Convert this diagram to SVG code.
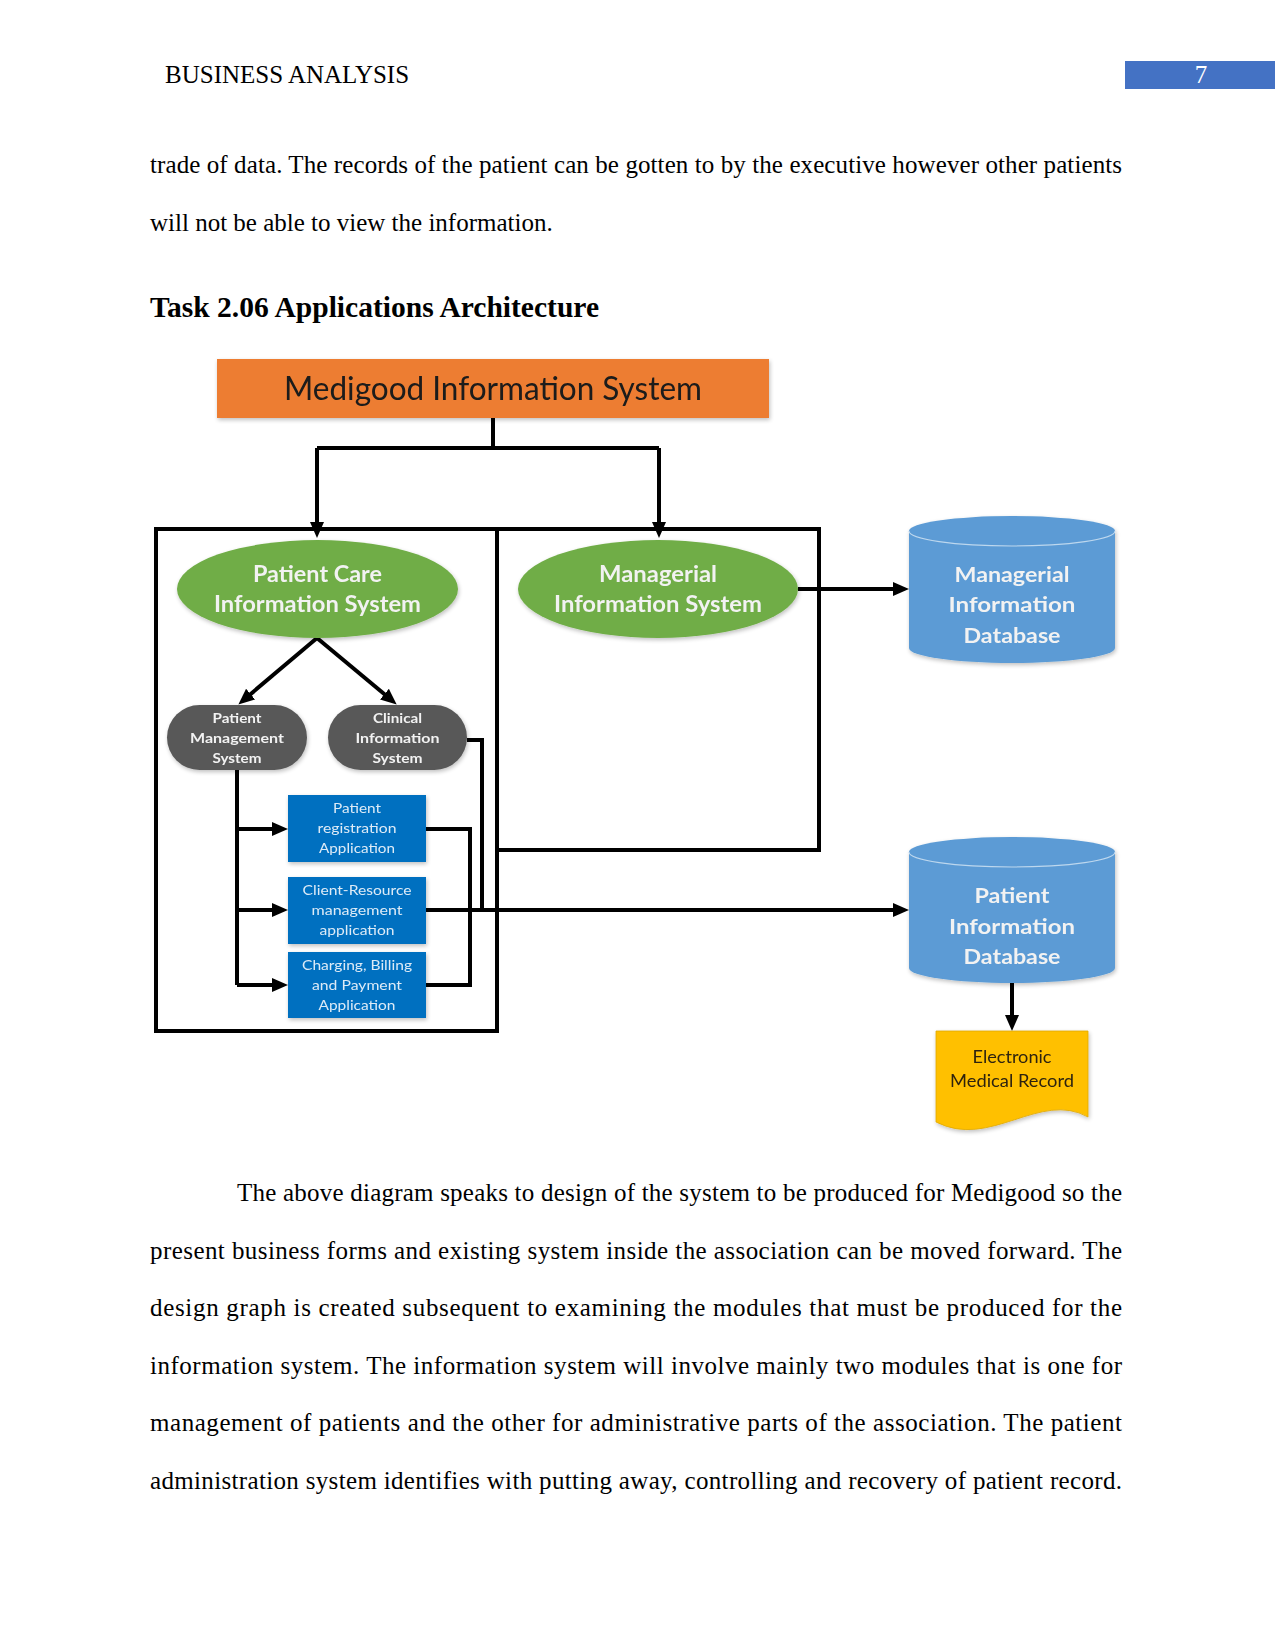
<svg xmlns="http://www.w3.org/2000/svg" width="1275" height="1651" viewBox="0 0 1275 1651">
<style>
.body{font-family:"Liberation Serif","Times New Roman",serif;font-size:25px;fill:#000}
.head{font-family:"Liberation Serif","Times New Roman",serif;font-size:29px;font-weight:bold;fill:#000}
.lb{font-family:Lato,"Liberation Sans",sans-serif;font-weight:bold;fill:#F2F2F2;text-anchor:middle}
.lr{font-family:Lato,"Liberation Sans",sans-serif;fill:#DDEBF7;text-anchor:middle}
.conn{fill:none;stroke:#000;stroke-width:4}
.arr{fill:none;stroke:#000;stroke-width:4;marker-end:url(#ah)}
.frame{fill:none;stroke:#000;stroke-width:4}
</style>
<defs>
<marker id="ah" markerUnits="userSpaceOnUse" viewBox="0 0 16 14" refX="6" refY="7" markerWidth="16" markerHeight="14" orient="auto">
<path d="M0,0 L16,7 L0,14 z" fill="#000"/>
</marker>
<filter id="sh" x="-10%" y="-10%" width="120%" height="130%">
<feGaussianBlur in="SourceAlpha" stdDeviation="2"/>
<feOffset dx="1" dy="2" result="b"/>
<feComponentTransfer><feFuncA type="linear" slope="0.25"/></feComponentTransfer>
<feMerge><feMergeNode/><feMergeNode in="SourceGraphic"/></feMerge>
</filter>
</defs>
<rect width="1275" height="1651" fill="#fff"/>

<g id="page-header">
<text class="body" x="165" y="83">BUSINESS ANALYSIS</text>
<rect x="1125" y="61" width="150" height="28" fill="#4472C4"/>
<text class="body" x="1201" y="83" style="fill:#fff" text-anchor="middle">7</text>
</g>

<g id="top-paragraph">
<text class="body" x="150" y="173" textLength="972" lengthAdjust="spacing">trade of data. The records of the patient can be gotten to by the executive however other patients</text>
<text class="body" x="150" y="231">will not be able to view the information.</text>
</g>

<text class="head" x="150" y="317" textLength="449" lengthAdjust="spacingAndGlyphs">Task 2.06 Applications Architecture</text>

<g id="frames">
<rect class="frame" x="156" y="529" width="341" height="502"/>
<rect class="frame" x="497" y="529" width="322" height="321"/>
</g>

<g id="connectors">
<path class="conn" d="M493,418 V448 M317,448 H659"/>
<path class="arr" d="M317,448 V528"/>
<path class="arr" d="M659,448 V528"/>
<path class="arr" d="M317,638 L246,698"/>
<path class="arr" d="M317,638 L389,698"/>
<path class="conn" d="M237,770 V985"/>
<path class="arr" d="M237,829 H278"/>
<path class="arr" d="M237,910 H278"/>
<path class="arr" d="M237,985 H278"/>
<path class="conn" d="M426,829 H470 V985 H426"/>
<path class="conn" d="M467,740 H482 V910"/>
<path class="arr" d="M426,910 H899"/>
<path class="arr" d="M798,589 H899"/>
<path class="arr" d="M1012,983 V1021"/>
</g>

<g id="medigood-is" filter="url(#sh)">
<rect x="217" y="359" width="552" height="59" fill="#ED7D31"/>
<text x="493" y="400" font-family="Lato,'Liberation Sans',sans-serif" font-size="32" fill="#1a1a1a" text-anchor="middle" textLength="418" lengthAdjust="spacingAndGlyphs">Medigood Information System</text>
</g>

<g id="patient-care-is" filter="url(#sh)">
<ellipse cx="317.5" cy="589" rx="140.5" ry="49" fill="#70AD47"/>
<text class="lb" x="317.5" y="582" font-size="22" textLength="129" lengthAdjust="spacingAndGlyphs">Patient Care</text>
<text class="lb" x="317.5" y="612" font-size="22" textLength="207" lengthAdjust="spacingAndGlyphs">Information System</text>
</g>

<g id="managerial-is" filter="url(#sh)">
<ellipse cx="658" cy="589" rx="140" ry="49" fill="#70AD47"/>
<text class="lb" x="658" y="582" font-size="22" textLength="118" lengthAdjust="spacingAndGlyphs">Managerial</text>
<text class="lb" x="658" y="612" font-size="22" textLength="208" lengthAdjust="spacingAndGlyphs">Information System</text>
</g>

<g id="managerial-db" filter="url(#sh)">
<path d="M909,531 A103,15 0 0 1 1115,531 V648 A103,15 0 0 1 909,648 Z" fill="#5B9BD5"/>
<path d="M909,531 A103,15 0 0 0 1115,531" fill="none" stroke="#BDD7EE" stroke-width="1.2"/>
<text class="lb" x="1012" y="582" font-size="21" textLength="115" lengthAdjust="spacingAndGlyphs">Managerial</text>
<text class="lb" x="1012" y="612" font-size="21" textLength="127" lengthAdjust="spacingAndGlyphs">Information</text>
<text class="lb" x="1012" y="643" font-size="21" textLength="97" lengthAdjust="spacingAndGlyphs">Database</text>
</g>

<g id="patient-mgmt-system" filter="url(#sh)">
<rect x="167" y="705" width="140" height="65" rx="32.5" fill="#595959"/>
<text class="lb" x="237" y="723" font-size="14" textLength="49" lengthAdjust="spacingAndGlyphs">Patient</text>
<text class="lb" x="237" y="743" font-size="14" textLength="94" lengthAdjust="spacingAndGlyphs">Management</text>
<text class="lb" x="237" y="763" font-size="14" textLength="49" lengthAdjust="spacingAndGlyphs">System</text>
</g>

<g id="clinical-info-system" filter="url(#sh)">
<rect x="328" y="705" width="139" height="65" rx="32.5" fill="#595959"/>
<text class="lb" x="397.5" y="723" font-size="14" textLength="49" lengthAdjust="spacingAndGlyphs">Clinical</text>
<text class="lb" x="397.5" y="743" font-size="14" textLength="84" lengthAdjust="spacingAndGlyphs">Information</text>
<text class="lb" x="397.5" y="763" font-size="14" textLength="50" lengthAdjust="spacingAndGlyphs">System</text>
</g>

<g id="patient-registration" filter="url(#sh)">
<rect x="288" y="795" width="138" height="67" fill="#0070C0"/>
<text class="lr" x="357" y="813" font-size="14" textLength="48" lengthAdjust="spacingAndGlyphs">Patient</text>
<text class="lr" x="357" y="833" font-size="14" textLength="79" lengthAdjust="spacingAndGlyphs">registration</text>
<text class="lr" x="357" y="853" font-size="14" textLength="76" lengthAdjust="spacingAndGlyphs">Application</text>
</g>

<g id="client-resource" filter="url(#sh)">
<rect x="288" y="877" width="138" height="67" fill="#0070C0"/>
<text class="lr" x="357" y="895" font-size="14" textLength="109" lengthAdjust="spacingAndGlyphs">Client-Resource</text>
<text class="lr" x="357" y="915" font-size="14" textLength="91" lengthAdjust="spacingAndGlyphs">management</text>
<text class="lr" x="357" y="935" font-size="14" textLength="75" lengthAdjust="spacingAndGlyphs">application</text>
</g>

<g id="charging-billing" filter="url(#sh)">
<rect x="288" y="952" width="138" height="66" fill="#0070C0"/>
<text class="lr" x="357" y="970" font-size="14" textLength="110" lengthAdjust="spacingAndGlyphs">Charging, Billing</text>
<text class="lr" x="357" y="990" font-size="14" textLength="90" lengthAdjust="spacingAndGlyphs">and Payment</text>
<text class="lr" x="357" y="1010" font-size="14" textLength="77" lengthAdjust="spacingAndGlyphs">Application</text>
</g>

<g id="patient-db" filter="url(#sh)">
<path d="M909,852 A103,15 0 0 1 1115,852 V968 A103,15 0 0 1 909,968 Z" fill="#5B9BD5"/>
<path d="M909,852 A103,15 0 0 0 1115,852" fill="none" stroke="#BDD7EE" stroke-width="1.2"/>
<text class="lb" x="1012" y="903" font-size="21" textLength="75" lengthAdjust="spacingAndGlyphs">Patient</text>
<text class="lb" x="1012" y="934" font-size="21" textLength="126" lengthAdjust="spacingAndGlyphs">Information</text>
<text class="lb" x="1012" y="964" font-size="21" textLength="97" lengthAdjust="spacingAndGlyphs">Database</text>
</g>

<g id="electronic-medical-record" filter="url(#sh)">
<path d="M936,1031 H1088 V1117 C1040,1090 990,1150 936,1122 Z" fill="#FFC000" stroke="#E0A800" stroke-width="0.8"/>
<text x="1012" y="1063" font-family="Lato,'Liberation Sans',sans-serif" font-size="17" fill="#2e2410" text-anchor="middle" textLength="79" lengthAdjust="spacingAndGlyphs">Electronic</text>
<text x="1012" y="1087" font-family="Lato,'Liberation Sans',sans-serif" font-size="17" fill="#2e2410" text-anchor="middle" textLength="124" lengthAdjust="spacingAndGlyphs">Medical Record</text>
</g>

<g id="bottom-paragraph">
<text class="body" x="237" y="1201" textLength="885" lengthAdjust="spacing">The above diagram speaks to design of the system to be produced for Medigood so the</text>
<text class="body" x="150" y="1258.5" textLength="972" lengthAdjust="spacing">present business forms and existing system inside the association can be moved forward. The</text>
<text class="body" x="150" y="1316" textLength="972" lengthAdjust="spacing">design graph is created subsequent to examining the modules that must be produced for the</text>
<text class="body" x="150" y="1373.5" textLength="972" lengthAdjust="spacing">information system. The information system will involve mainly two modules that is one for</text>
<text class="body" x="150" y="1431" textLength="972" lengthAdjust="spacing">management of patients and the other for administrative parts of the association. The patient</text>
<text class="body" x="150" y="1488.5" textLength="972" lengthAdjust="spacing">administration system identifies with putting away, controlling and recovery of patient record.</text>
</g>
</svg>
